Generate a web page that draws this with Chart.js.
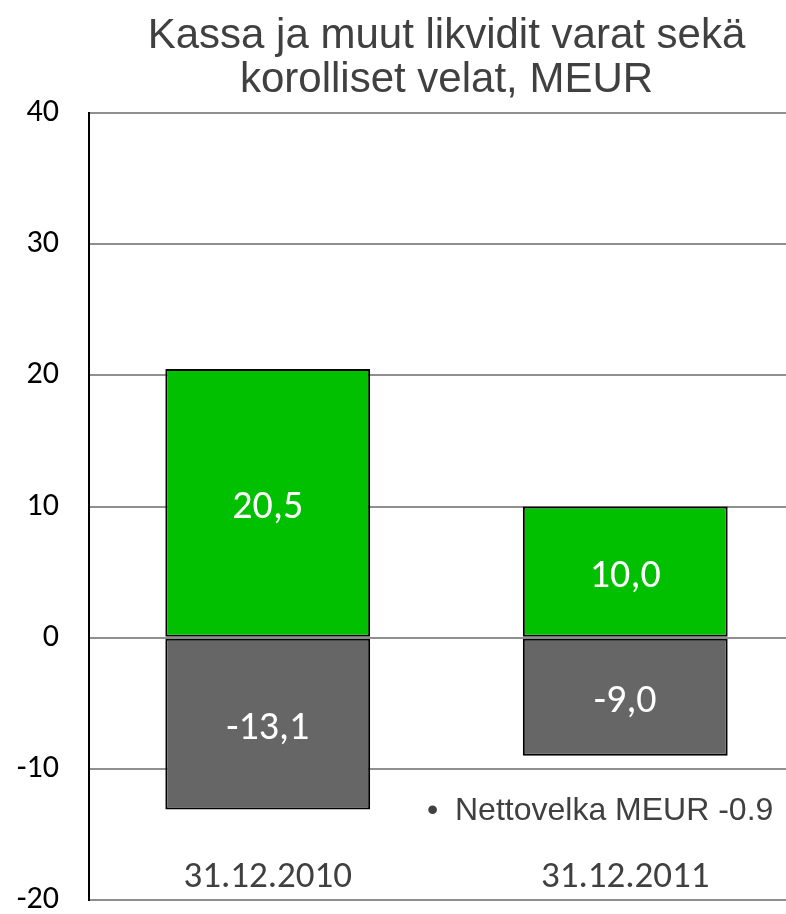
<!DOCTYPE html>
<html>
<head>
<meta charset="utf-8">
<script src="https://cdn.jsdelivr.net/npm/chart.js@4/dist/chart.umd.min.js"></script>
<style>
  html, body { margin: 0; padding: 0; background: #ffffff; overflow: hidden; }
  #wrap { width: 804px; height: 914px; }
</style>
</head>
<body>
<div id="wrap"><canvas id="c" width="804" height="914"></canvas></div>
<script>
// ---- data ----
const categories = ['31.12.2010', '31.12.2011'];
const cashValues = [20.5, 10.0];      // Kassa ja muut likvidit varat
const debtValues = [-13.1, -9.0];     // Korolliset velat
const titleLines = ['Kassa ja muut likvidit varat sekä', 'korolliset velat, MEUR'];
const noteText = 'Nettovelka MEUR -0.9';
const yMin = -20, yMax = 40, yStep = 10;

const fmt = v => v.toFixed(1).replace('.', ',');
const calibriLike = 'Carlito, "Noto Sans", sans-serif';

const labelPlugin = {
  id: 'labels',
  afterDatasetsDraw(chart) {
    const ctx = chart.ctx;
    const xs = chart.scales.x, ys = chart.scales.y;
    ctx.save();
    // value labels centred in each bar
    ctx.fillStyle = '#ffffff';
    ctx.font = '40px ' + calibriLike;
    ctx.textAlign = 'center';
    ctx.textBaseline = 'middle';
    chart.data.datasets.forEach((ds, di) => {
      const meta = chart.getDatasetMeta(di);
      meta.data.forEach((bar, i) => {
        const p = bar.getProps(['x', 'y', 'base'], true);
        ctx.fillText(fmt(ds.data[i]), p.x, (p.y + p.base) / 2 + 5);
      });
    });
    // category labels inside plot near bottom
    ctx.fillStyle = '#404040';
    ctx.font = '37px ' + calibriLike;
    const yb = ys.getPixelForValue(yMin) - 22;
    categories.forEach((c, i) => {
      ctx.fillText(c, xs.getPixelForValue(i), yb);
    });
    // note text
    ctx.textAlign = 'left';
    ctx.font = '32px "Liberation Sans"';
    const yn = ys.getPixelForValue(-13.1) + 2;
    ctx.fillText('\u2022', 427, yn);
    ctx.fillText(noteText, 455, yn);
    ctx.restore();
  }
};

new Chart(document.getElementById('c'), {
  type: 'bar',
  data: {
    labels: categories,
    datasets: [
      { label: 'Kassa', data: cashValues, backgroundColor: '#00c000', borderColor: '#000000', borderWidth: 2, borderSkipped: false },
      { label: 'Velat', data: debtValues, backgroundColor: '#666666', borderColor: '#000000', borderWidth: 2, borderSkipped: false }
    ]
  },
  options: {
    responsive: false,
    animation: false,
    layout: { padding: { left: 0, right: 0, top: 0, bottom: 14 } },
    datasets: { bar: { barPercentage: 0.573, categoryPercentage: 1.0 } },
    plugins: {
      legend: { display: false },
      tooltip: { enabled: false },
      title: {
        display: true,
        fullSize: false,
        text: titleLines,
        color: '#404040',
        font: { family: '"Liberation Sans", Arial, sans-serif', size: 42, weight: 'normal', lineHeight: 1.05 },
        padding: { top: 14, bottom: 11 }
      }
    },
    scales: {
      x: {
        stacked: true,
        display: false,
        ticks: { display: false },
        grid: { display: false }
      },
      y: {
        stacked: true,
        min: yMin,
        max: yMax,
        ticks: {
          stepSize: yStep,
          color: '#000000',
          padding: 0,
          font: { family: calibriLike, size: 32, lineHeight: 0.85 }
        },
        grid: { color: '#8f8f8f', lineWidth: 2, drawTicks: true, tickLength: 30, tickColor: 'rgba(0,0,0,0)' },
        border: { display: true, color: '#000000', width: 2 },
        afterFit(scale) { scale.width = 89; }
      }
    }
  },
  plugins: [labelPlugin]
});
</script>
</body>
</html>
